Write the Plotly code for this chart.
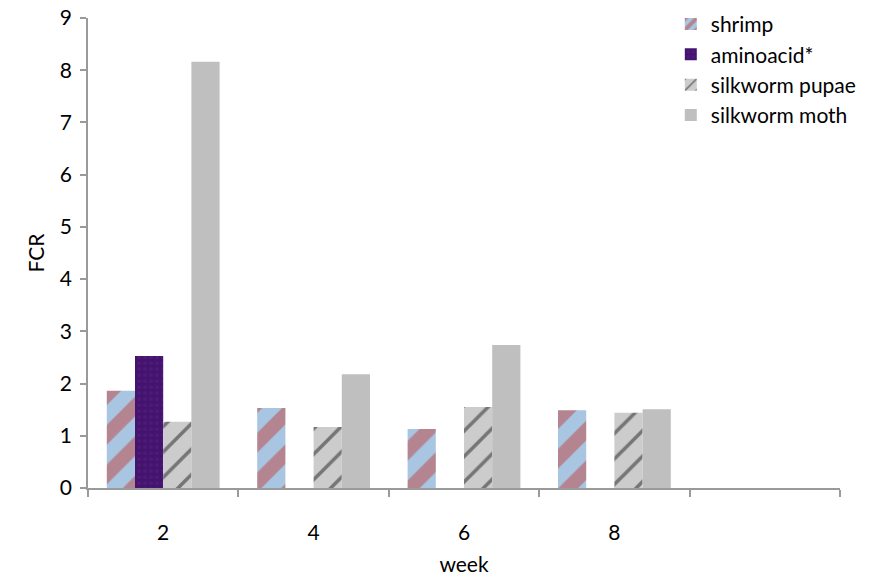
import plotly.graph_objects as go

# Feed conversion ratio per sampling week
weeks = ["2", "4", "6", "8"]
n_slots = 5  # one extra empty slot on the right of the axis

shrimp = [1.86, 1.53, 1.13, 1.49]
aminoacid = [2.53, None, None, None]
silkworm_pupae = [1.27, 1.17, 1.55, 1.44]
silkworm_moth = [8.16, 2.18, 2.74, 1.51]

FONT = "Lato"
FSIZE = 21
AXIS_GREY = "#9a9a9a"

x_pos = list(range(len(weeks)))

fig = go.Figure()

fig.add_trace(go.Bar(
    name="shrimp", x=x_pos, y=shrimp,
    marker=dict(
        color="#a9c3de",
        line=dict(width=0),
        pattern=dict(shape="/", fgcolor="#c0453f", bgcolor="#a8c5e2",
                     size=28, solidity=0.5, fillmode="overlay"),
    ),
))
fig.add_trace(go.Bar(
    name="aminoacid*", x=x_pos, y=aminoacid,
    marker=dict(
        color="#4a1677",
        line=dict(width=0),
        pattern=dict(shape=".", fgcolor="#5a2288", bgcolor="#43136d",
                     size=6, solidity=0.3, fillmode="overlay"),
    ),
))
fig.add_trace(go.Bar(
    name="silkworm pupae", x=x_pos, y=silkworm_pupae,
    marker=dict(
        color="#c6c6c6",
        line=dict(width=0),
        pattern=dict(shape="/", fgcolor="#1e1e1e", bgcolor="#cccccc",
                     size=18, solidity=0.2, fillmode="overlay"),
    ),
))
fig.add_trace(go.Bar(
    name="silkworm moth", x=x_pos, y=silkworm_moth,
    marker=dict(color="#bfbfbf", line=dict(width=0)),
))

boundaries = [i - 0.5 for i in range(n_slots + 1)]

fig.update_layout(
    width=875, height=581,
    margin=dict(l=88, r=35, t=18, b=93, autoexpand=False),
    paper_bgcolor="white", plot_bgcolor="white",
    barmode="group", bargap=0.25, bargroupgap=0,
    font=dict(family=FONT, size=FSIZE, color="black"),
    showlegend=True,
    legend=dict(
        x=0.775, y=1.03, xanchor="left", yanchor="top",
        bgcolor="rgba(0,0,0,0)", font=dict(family=FONT, size=FSIZE),
        tracegroupgap=0, itemwidth=30,
    ),
    xaxis=dict(
        range=[-0.5, n_slots - 0.5],
        tickmode="array", tickvals=x_pos, ticktext=weeks,
        ticks="", showgrid=False, zeroline=False,
        showline=True, linecolor=AXIS_GREY, linewidth=1.5,
        tickfont=dict(family=FONT, size=FSIZE),
        minor=dict(tickmode="array", tickvals=boundaries, ticks="outside",
                   ticklen=7, tickcolor=AXIS_GREY, tickwidth=1.5, showgrid=False),
        title=dict(text="week", font=dict(family=FONT, size=FSIZE), standoff=14),
        ticklabelstandoff=25,
        automargin=False,
    ),
    yaxis=dict(
        range=[0, 9], dtick=1, tick0=0,
        ticks="outside", ticklen=6, tickcolor=AXIS_GREY, tickwidth=1.5,
        showgrid=False, zeroline=False,
        showline=True, linecolor=AXIS_GREY, linewidth=1.5,
        tickfont=dict(family=FONT, size=FSIZE),
        ticklabelstandoff=4,
        title=dict(text="FCR", font=dict(family=FONT, size=FSIZE), standoff=10),
        automargin=False,
    ),
)

fig.write_html("out.html")
